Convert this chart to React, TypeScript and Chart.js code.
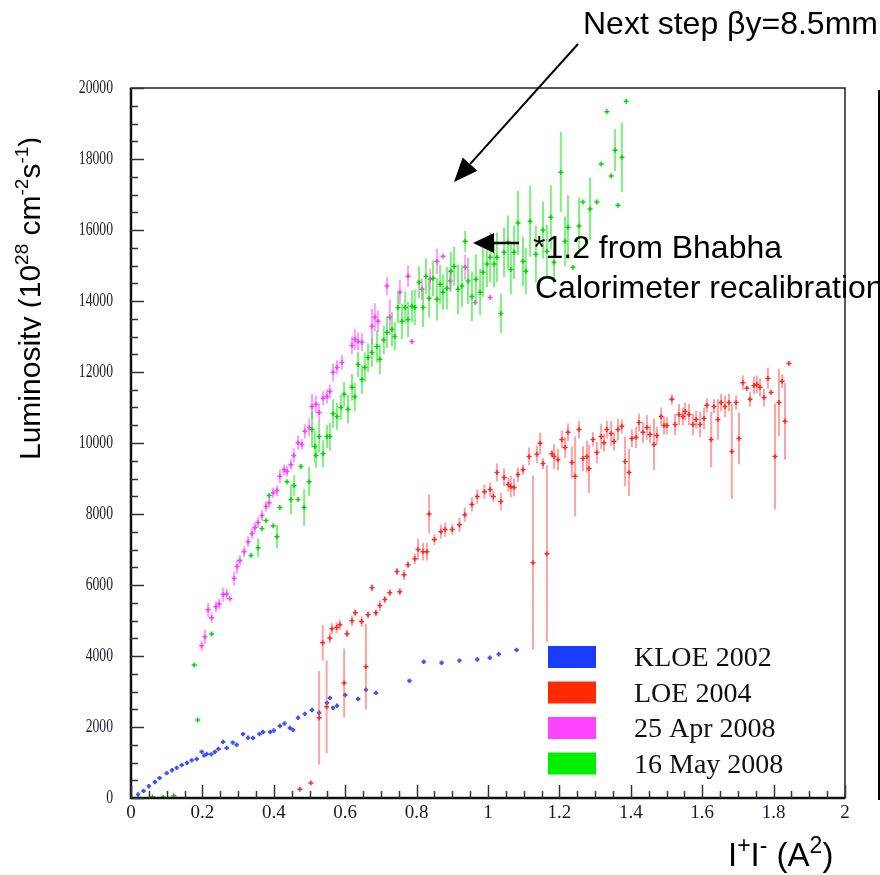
import React, { useEffect, useRef } from 'react';
import { Chart, registerables } from 'chart.js';
Chart.register(...registerables);

// ---------- data ----------
const SERIES_LABELS = ['KLOE 2002', 'LOE 2004', '25 Apr 2008', '16 May 2008'];
const LEGEND_COLORS = ['#1a3cff', '#ff2a00', '#ff44ff', '#00ee00'];
const X_TICKS = [0, 0.2, 0.4, 0.6, 0.8, 1, 1.2, 1.4, 1.6, 1.8, 2];
const Y_TICKS = [0, 2000, 4000, 6000, 8000, 10000, 12000, 14000, 16000, 18000, 20000];

const kloeX = [0.02, 0.035, 0.05, 0.067, 0.08, 0.1, 0.115, 0.128, 0.142, 0.157, 0.17, 0.184, 0.198, 0.205, 0.212, 0.225, 0.235, 0.245, 0.258, 0.268, 0.285, 0.296, 0.314, 0.328, 0.342, 0.36, 0.37, 0.39, 0.4, 0.417, 0.43, 0.445, 0.454, 0.468, 0.487, 0.507, 0.527, 0.549, 0.557, 0.566, 0.577, 0.6, 0.636, 0.658, 0.686, 0.78, 0.82, 0.87, 0.92, 0.97, 1.005, 1.03, 1.08];
const kloeY = [100, 200, 330, 450, 560, 700, 780, 850, 930, 990, 1060, 1100, 1300, 1200, 1240, 1230, 1300, 1380, 1580, 1410, 1560, 1500, 1800, 1700, 1690, 1800, 1860, 1860, 1900, 2030, 2100, 1970, 1920, 2260, 2370, 2480, 2400, 2680, 2820, 2540, 2600, 2900, 2790, 3050, 2960, 3300, 3840, 3810, 3870, 3900, 3950, 4050, 4170];

const loeX = [0.473, 0.504, 0.527, 0.537, 0.548, 0.557, 0.563, 0.576, 0.585, 0.597, 0.605, 0.619, 0.628, 0.646, 0.658, 0.664, 0.675, 0.686, 0.697, 0.711, 0.725, 0.745, 0.753, 0.765, 0.776, 0.795, 0.804, 0.818, 0.829, 0.835, 0.85, 0.868, 0.88, 0.9, 0.92, 0.935, 0.955, 0.97, 0.99, 1.006, 1.015, 1.025, 1.036, 1.045, 1.057, 1.064, 1.073, 1.084, 1.098, 1.115, 1.126, 1.137, 1.146, 1.154, 1.165, 1.179, 1.185, 1.196, 1.207, 1.216, 1.224, 1.235, 1.244, 1.255, 1.266, 1.277, 1.283, 1.294, 1.305, 1.317, 1.325, 1.333, 1.345, 1.353, 1.364, 1.375, 1.384, 1.395, 1.403, 1.415, 1.423, 1.434, 1.445, 1.454, 1.465, 1.473, 1.485, 1.493, 1.501, 1.515, 1.524, 1.535, 1.546, 1.552, 1.563, 1.574, 1.583, 1.594, 1.605, 1.613, 1.625, 1.633, 1.644, 1.653, 1.664, 1.675, 1.683, 1.695, 1.703, 1.714, 1.725, 1.734, 1.745, 1.753, 1.762, 1.773, 1.784, 1.793, 1.804, 1.815, 1.824, 1.832, 1.843];
const loeY = [250, 420, 2260, 4370, 2570, 4510, 4770, 4800, 4880, 3240, 4630, 4990, 5220, 4970, 3700, 5160, 5920, 5220, 5420, 5590, 5780, 6380, 5810, 6290, 6570, 6740, 7000, 6940, 6940, 8000, 7280, 7500, 7560, 7560, 7700, 7980, 8270, 8490, 8630, 8690, 8490, 9170, 8350, 9030, 8830, 8770, 8750, 9110, 9250, 9620, 6630, 9680, 9990, 9420, 6880, 9700, 9620, 9530, 10100, 9870, 10300, 9450, 9060, 10380, 9560, 9620, 9280, 10100, 9730, 10180, 10010, 10380, 10270, 10040, 10380, 10470, 9480, 9170, 10130, 10160, 10580, 10300, 10440, 10240, 9960, 10210, 10750, 10490, 10490, 11230, 10520, 10800, 10750, 10890, 10800, 10520, 10660, 10520, 10690, 11060, 10100, 11030, 10660, 11140, 11030, 11140, 9760, 11140, 10130, 11700, 11540, 11230, 11620, 11650, 11570, 11280, 11820, 11420, 9620, 11140, 11740, 10610, 12240];
const loeErr = [0, 0, 1320, 500, 1310, 150, 150, 150, 150, 970, 100, 150, 100, 150, 1210, 100, 100, 100, 150, 100, 100, 100, 100, 150, 100, 150, 300, 250, 250, 550, 150, 200, 200, 150, 200, 200, 200, 200, 200, 200, 150, 250, 250, 250, 200, 300, 250, 200, 150, 250, 2450, 250, 300, 150, 2490, 100, 350, 300, 250, 300, 250, 450, 1130, 250, 350, 450, 680, 200, 300, 350, 250, 250, 350, 250, 300, 200, 700, 660, 250, 300, 250, 300, 350, 250, 720, 250, 250, 250, 250, 150, 300, 300, 250, 250, 300, 300, 250, 350, 300, 200, 780, 200, 570, 250, 300, 250, 1340, 200, 730, 200, 0, 200, 250, 250, 250, 250, 300, 0, 1490, 950, 200, 1080, 0];

const aprX = [0.198, 0.207, 0.216, 0.226, 0.238, 0.247, 0.258, 0.268, 0.277, 0.289, 0.297, 0.305, 0.317, 0.328, 0.339, 0.347, 0.356, 0.367, 0.378, 0.387, 0.398, 0.409, 0.417, 0.429, 0.437, 0.448, 0.456, 0.468, 0.479, 0.487, 0.499, 0.507, 0.518, 0.527, 0.538, 0.549, 0.557, 0.566, 0.577, 0.591, 0.619, 0.627, 0.636, 0.647, 0.675, 0.683, 0.692, 0.717, 0.725, 0.753, 0.776, 0.787, 0.815, 0.838, 0.857, 0.874, 0.894, 0.936, 0.964, 1.006];
const aprY = [4290, 4540, 5300, 5080, 5390, 5470, 5730, 5750, 5610, 6180, 6520, 6690, 6940, 7220, 7450, 7620, 7760, 7960, 8210, 8320, 8600, 8660, 9060, 9250, 9200, 9390, 9650, 10010, 9960, 10330, 10440, 11030, 11090, 10860, 11260, 11310, 11450, 11990, 12130, 12270, 12750, 12920, 12860, 12840, 13290, 13540, 13430, 14420, 13540, 14250, 14700, 12860, 14330, 14610, 15120, 15260, 14560, 14950, 13960, 14100];
const aprErr = [150, 200, 200, 150, 150, 150, 200, 150, 0, 200, 200, 150, 150, 150, 150, 150, 150, 150, 150, 150, 150, 150, 200, 150, 150, 150, 200, 200, 150, 200, 250, 350, 250, 250, 200, 200, 200, 250, 200, 200, 250, 300, 250, 250, 500, 400, 300, 250, 500, 350, 300, 0, 300, 300, 350, 0, 300, 350, 0, 0];

const mayX = [0.06, 0.09, 0.12, 0.177, 0.187, 0.226, 0.336, 0.356, 0.367, 0.378, 0.387, 0.398, 0.409, 0.417, 0.437, 0.448, 0.457, 0.468, 0.476, 0.485, 0.499, 0.507, 0.515, 0.518, 0.527, 0.538, 0.549, 0.557, 0.566, 0.577, 0.588, 0.597, 0.608, 0.619, 0.627, 0.636, 0.647, 0.655, 0.664, 0.675, 0.689, 0.697, 0.708, 0.717, 0.731, 0.739, 0.748, 0.759, 0.768, 0.776, 0.787, 0.795, 0.807, 0.818, 0.826, 0.835, 0.846, 0.857, 0.866, 0.874, 0.885, 0.896, 0.905, 0.916, 0.927, 0.936, 0.944, 0.955, 0.966, 0.978, 0.986, 0.997, 1.006, 1.017, 1.025, 1.036, 1.045, 1.056, 1.064, 1.073, 1.084, 1.098, 1.106, 1.118, 1.134, 1.154, 1.165, 1.176, 1.185, 1.204, 1.216, 1.224, 1.238, 1.255, 1.266, 1.286, 1.305, 1.317, 1.333, 1.345, 1.356, 1.364, 1.375, 1.387];
const mayY = [30, 20, 60, 3750, 2200, 4620, 6830, 7050, 7590, 7820, 8520, 7670, 7360, 8180, 8910, 8410, 8800, 8410, 9340, 8180, 8910, 10380, 9900, 9650, 10180, 9700, 10180, 10180, 10830, 10750, 11000, 11370, 10950, 11570, 11300, 12210, 11790, 12130, 12410, 12550, 12720, 12360, 12900, 13120, 13200, 13000, 13820, 13430, 13820, 13480, 13850, 13820, 14530, 13820, 14700, 14080, 14640, 14050, 14470, 14250, 14360, 14840, 14980, 14330, 14420, 15680, 14560, 14130, 14610, 14250, 14810, 15040, 15230, 15040, 15230, 13650, 15370, 15660, 14890, 15370, 16200, 15120, 14840, 16250, 15320, 16000, 15400, 16360, 15090, 17630, 15680, 16080, 14950, 16110, 16790, 16590, 16790, 17860, 19330, 17520, 18250, 16700, 18050, 19630];
const mayErr = [0, 0, 0, 0, 0, 0, 0, 270, 0, 0, 0, 0, 330, 0, 0, 420, 300, 0, 0, 520, 410, 500, 450, 350, 450, 380, 330, 400, 400, 380, 350, 350, 400, 380, 400, 350, 400, 420, 400, 400, 450, 420, 400, 450, 480, 400, 450, 500, 450, 500, 450, 500, 450, 550, 500, 550, 500, 600, 550, 500, 600, 550, 550, 700, 600, 300, 650, 700, 700, 650, 700, 650, 700, 650, 700, 550, 700, 750, 700, 750, 900, 700, 650, 1000, 800, 800, 750, 900, 600, 1130, 700, 900, 0, 800, 0, 880, 0, 0, 0, 0, 590, 0, 985, 0];

// ---------- helpers ----------
function markers(xs: number[], ys: number[]) {
  return xs.map((x, i) => ({ x, y: ys[i] }));
}
function errorSegments(xs: number[], ys: number[], es: number[]) {
  const pts: { x: number; y: number | null }[] = [];
  xs.forEach((x, i) => {
    if (es[i] > 0) {
      pts.push({ x, y: ys[i] - es[i] }, { x, y: ys[i] + es[i] }, { x, y: null });
    }
  });
  return pts;
}

type Part = [string, boolean];
function drawRich(ctx: CanvasRenderingContext2D, parts: Part[], x: number, y: number, size: number, family: string, supScale = 0.62) {
  let cx = x;
  for (const [t, sup] of parts) {
    const s = sup ? Math.round(size * supScale) : size;
    ctx.font = `${s}px ${family}`;
    ctx.fillText(t, cx, sup ? y - size * 0.4 : y);
    cx += ctx.measureText(t).width;
  }
}

function arrow(ctx: CanvasRenderingContext2D, x1: number, y1: number, x2: number, y2: number, headLen: number, headHalf: number) {
  const ang = Math.atan2(y2 - y1, x2 - x1);
  const bx = x2 - headLen * Math.cos(ang);
  const by = y2 - headLen * Math.sin(ang);
  ctx.beginPath();
  ctx.moveTo(x1, y1);
  ctx.lineTo(bx, by);
  ctx.stroke();
  ctx.beginPath();
  ctx.moveTo(x2, y2);
  ctx.lineTo(bx + headHalf * Math.sin(ang), by - headHalf * Math.cos(ang));
  ctx.lineTo(bx - headHalf * Math.sin(ang), by + headHalf * Math.cos(ang));
  ctx.closePath();
  ctx.fill();
}

const SANS = '"Liberation Sans", Arial, sans-serif';
const SERIF = '"Liberation Serif", "Times New Roman", serif';

const decorPlugin = {
  id: 'decor',
  afterDraw(chart: any) {
    const ctx: CanvasRenderingContext2D = chart.ctx;
    const { left, right, top, bottom } = chart.chartArea;
    const xs = chart.scales.x;
    const ys = chart.scales.y;
    ctx.save();
    // frame
    ctx.strokeStyle = '#222';
    ctx.lineWidth = 1.5;
    ctx.strokeRect(left, top, right - left, bottom - top);
    ctx.strokeStyle = '#111';
    ctx.lineWidth = 2.5;
    ctx.beginPath();
    ctx.moveTo(left, top);
    ctx.lineTo(left, bottom);
    ctx.lineTo(right, bottom);
    ctx.stroke();
    // ticks
    ctx.lineWidth = 1.5;
    ctx.strokeStyle = '#333';
    for (let v = 0; v <= 20000; v += 500) {
      const py = Math.round(ys.getPixelForValue(v)) + 0.5;
      const len = v % 2000 === 0 ? 13 : 7;
      ctx.beginPath();
      ctx.moveTo(left, py);
      ctx.lineTo(left + len, py);
      ctx.stroke();
    }
    for (let k = 0; k <= 40; k++) {
      const v = k * 0.05;
      const px = Math.round(xs.getPixelForValue(v)) + 0.5;
      const len = k % 4 === 0 ? 13 : 7;
      ctx.beginPath();
      ctx.moveTo(px, bottom);
      ctx.lineTo(px, bottom - len);
      ctx.stroke();
    }
    // y tick labels (condensed serif, as in the original)
    ctx.fillStyle = '#1a1a2a';
    ctx.font = `19px ${SERIF}`;
    ctx.textAlign = 'right';
    ctx.textBaseline = 'middle';
    Y_TICKS.forEach((v) => {
      const py = ys.getPixelForValue(v);
      ctx.save();
      ctx.translate(left - 18, py);
      ctx.scale(0.72, 1);
      ctx.fillText(String(v), 0, 0);
      ctx.restore();
    });
    // right separator line
    ctx.strokeStyle = '#000';
    ctx.lineWidth = 2;
    ctx.beginPath();
    ctx.moveTo(879, 90);
    ctx.lineTo(879, 800);
    ctx.stroke();

    // legend
    ctx.textBaseline = 'alphabetic';
    ctx.textAlign = 'left';
    SERIES_LABELS.forEach((lab, i) => {
      const yy = 646 + i * 35.5;
      ctx.fillStyle = LEGEND_COLORS[i];
      ctx.fillRect(548, yy, 48, 22);
      ctx.fillStyle = '#111';
      ctx.font = `28px ${SERIF}`;
      ctx.fillText(lab, 634, yy + 20);
    });

    // annotations
    ctx.fillStyle = '#000';
    ctx.strokeStyle = '#000';
    ctx.font = `32px ${SANS}`;
    ctx.fillText('Next step \u03b2y=8.5mm', 583, 34);
    ctx.fillText('*1.2 from Bhabha', 533, 258);
    ctx.fillText('Calorimeter recalibration', 535, 298);
    ctx.lineWidth = 2;
    arrow(ctx, 578, 44, 454, 182, 24, 10);
    ctx.lineWidth = 2.5;
    arrow(ctx, 519, 243, 473, 243, 21, 10);

    // x title
    drawRich(ctx, [['I', false], ['+', true], ['I', false], ['-', true], [' (A', false], ['2', true], [')', false]], 728, 866, 33, SANS, 0.7);

    // y title (rotated, clipped on the right)
    ctx.save();
    ctx.beginPath();
    ctx.rect(0, 0, 41, 875);
    ctx.clip();
    ctx.translate(40, 460);
    ctx.rotate(-Math.PI / 2);
    drawRich(ctx, [['Luminosity (10', false], ['28', true], [' cm', false], ['-2', true], ['s', false], ['-1', true], [')', false]], 0, 0, 30, SANS);
    ctx.restore();

    ctx.restore();
  },
};

export default function App() {
  const ref = useRef<HTMLCanvasElement>(null);
  useEffect(() => {
    if (!ref.current) return;
    const common = { showLine: false, pointStyle: 'cross', pointRadius: 2.5, pointBorderWidth: 1.5 };
    const bar = { showLine: true, pointRadius: 0, spanGaps: false, borderWidth: 2, tension: 0 };
    const chart = new Chart(ref.current, {
      type: 'scatter',
      data: {
        datasets: [
          { label: SERIES_LABELS[3], data: markers(mayX, mayY), borderColor: 'rgb(0,215,0)', backgroundColor: 'rgb(0,215,0)', ...common },
          { label: SERIES_LABELS[3] + ' err', data: errorSegments(mayX, mayY, mayErr), borderColor: 'rgba(40,230,40,0.6)', ...bar },
          { label: SERIES_LABELS[2], data: markers(aprX, aprY), borderColor: 'rgb(255,60,255)', backgroundColor: 'rgb(255,60,255)', ...common },
          { label: SERIES_LABELS[2] + ' err', data: errorSegments(aprX, aprY, aprErr), borderColor: 'rgba(255,90,255,0.6)', ...bar },
          { label: SERIES_LABELS[1], data: markers(loeX, loeY), borderColor: 'rgb(255,40,40)', backgroundColor: 'rgb(255,40,40)', ...common },
          { label: SERIES_LABELS[1] + ' err', data: errorSegments(loeX, loeY, loeErr), borderColor: 'rgba(255,70,70,0.5)', ...bar },
          { label: SERIES_LABELS[0], data: markers(kloeX, kloeY), borderColor: 'rgb(60,80,255)', backgroundColor: 'rgb(60,80,255)', ...common, pointRadius: 2.2, pointBorderWidth: 2 },
        ],
      },
      options: {
        animation: false,
        responsive: false,
        devicePixelRatio: 1,
        layout: { padding: { left: 0, top: 88, right: 35, bottom: 0 } },
        plugins: { legend: { display: false }, tooltip: { enabled: false } },
        scales: {
          x: {
            type: 'linear',
            min: 0,
            max: 2,
            afterBuildTicks: (s: any) => { s.ticks = X_TICKS.map((v) => ({ value: v })); },
            afterFit: (s: any) => { s.height = 77; },
            grid: { display: false, drawTicks: false },
            border: { display: false },
            ticks: {
              padding: 4,
              color: '#1a1a2a',
              font: { family: SERIF, size: 19 },
              maxRotation: 0,
              callback: (v: any) => String(Math.round(Number(v) * 10) / 10),
            },
          },
          y: {
            type: 'linear',
            min: 0,
            max: 20000,
            afterBuildTicks: (s: any) => { s.ticks = Y_TICKS.map((v) => ({ value: v })); },
            afterFit: (s: any) => { s.width = 131; },
            grid: { display: false, drawTicks: false },
            border: { display: false },
            ticks: { display: false },
          },
        },
      },
      plugins: [decorPlugin],
    } as any);
    return () => chart.destroy();
  }, []);
  return (
    <div style={{ position: 'absolute', left: 0, top: 0, width: 880, height: 875, background: '#fff' }}>
      <canvas ref={ref} width={880} height={875} style={{ display: 'block' }} />
    </div>
  );
}
